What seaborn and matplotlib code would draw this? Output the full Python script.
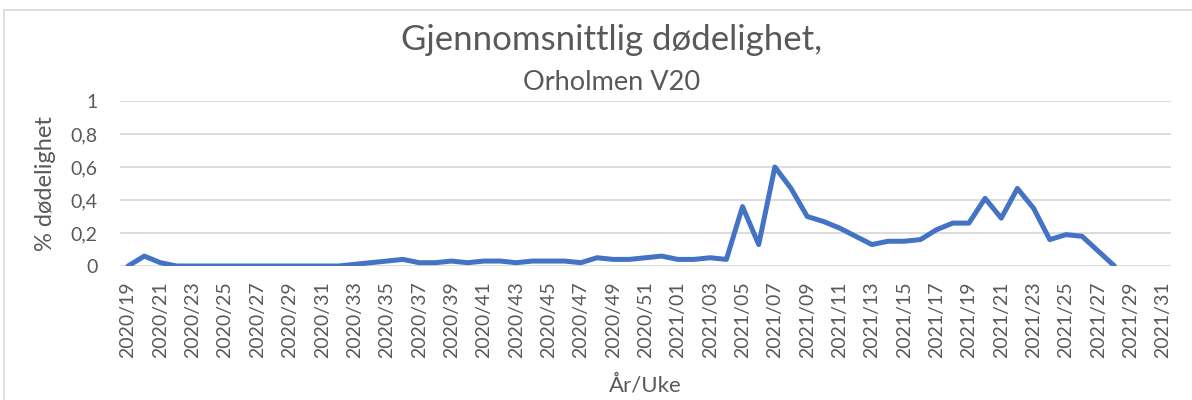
import numpy as np
import pandas as pd
import matplotlib
matplotlib.use("Agg")
import matplotlib.pyplot as plt
import seaborn as sns
from matplotlib.patches import Rectangle

sns.set_style("white")
plt.rcParams['font.family'] = ['Lato', 'DejaVu Sans']

# weeks 2020/19 - 2020/52 and 2021/01 - 2021/31
weeks = [f"2020/{w:02d}" for w in range(19, 53)] + [f"2021/{w:02d}" for w in range(1, 32)]

mortality = [
    0.00, 0.06, 0.02, 0.00, 0.00, 0.00, 0.00, 0.00, 0.00, 0.00,
    0.00, 0.00, 0.00, 0.00, 0.01, 0.02, 0.03, 0.04, 0.02, 0.02,
    0.03, 0.02, 0.03, 0.03, 0.02, 0.03, 0.03, 0.03, 0.02, 0.05,
    0.04, 0.04, 0.05, 0.06, 0.04, 0.04, 0.05, 0.04, 0.36, 0.13,
    0.60, 0.47, 0.30, 0.27, 0.23, 0.18, 0.13, 0.15, 0.15, 0.16,
    0.22, 0.26, 0.26, 0.41, 0.29, 0.47, 0.35, 0.16, 0.19, 0.18,
    0.09, 0.00, np.nan, np.nan, np.nan,
]

y_ticks = [0, 0.2, 0.4, 0.6, 0.8, 1.0]
y_labels = ["0", "0,2", "0,4", "0,6", "0,8", "1"]

df = pd.DataFrame({"pos": np.arange(len(weeks)), "week": weeks, "value": mortality})

grey = "#595959"
fig = plt.figure(figsize=(11.92, 4.0), dpi=100)
ax = fig.add_axes([0.1007, 0.335, 0.8817, 0.4125])

sns.lineplot(data=df, x="pos", y="value", color="#4472C4", linewidth=3.6, ax=ax)

ax.set_xlim(-0.5, len(weeks) - 0.5)
ax.set_ylim(0, 1)
ax.set_yticks(y_ticks)
ax.set_yticklabels(y_labels)
ax.set_xticks(df["pos"][::2])
ax.set_xticklabels(df["week"][::2], rotation=90)
ax.tick_params(axis="x", length=0, pad=11, labelsize=14, colors=grey)
ax.tick_params(axis="y", length=0, pad=16, labelsize=14, colors=grey)
ax.grid(axis="y", color="#D9D9D9", linewidth=1.3)
ax.set_axisbelow(True)
for s in ax.spines.values():
    s.set_visible(False)

ax.set_xlabel("")
ax.set_ylabel("")
fig.text(0.038, 0.54, "% dødelighet", rotation=90, ha="center", va="center", fontsize=17, color=grey)
fig.text(0.541, 0.038, "År/Uke", ha="center", va="center", fontsize=16, color=grey)

fig.text(0.513, 0.9, "Gjennomsnittlig dødelighet,", ha="center", va="center", fontsize=25, color=grey)
fig.text(0.513, 0.795, "Orholmen V20", ha="center", va="center", fontsize=19.5, color=grey)

fig.patches.append(Rectangle((0.003, -0.05), 1.1, 1.025, transform=fig.transFigure,
                             fill=False, edgecolor="#D9D9D9", linewidth=1.2))

plt.savefig("out.png", dpi=100)
